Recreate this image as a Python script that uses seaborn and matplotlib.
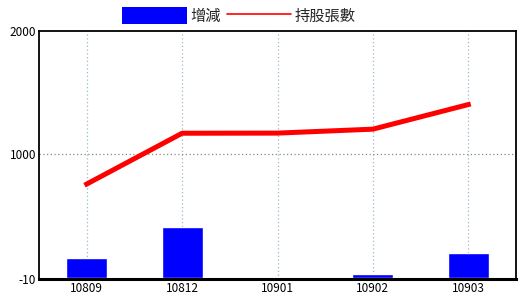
import matplotlib
matplotlib.use("Agg")
import matplotlib.pyplot as plt
import seaborn as sns
import pandas as pd
from matplotlib.patches import Patch
from matplotlib.lines import Line2D

months = ["10809", "10812", "10901", "10902", "10903"]
change = [160, 411, 1, 32, 199]          # 增減
holdings = [758, 1169, 1170, 1202, 1401]  # 持股張數
yticks = [-10, 1000, 2000]

df = pd.DataFrame({"month": months, "change": change, "holdings": holdings})

sns.set_theme(style="white")
plt.rcParams["font.family"] = ["Noto Sans CJK TC", "DejaVu Sans"]

fig = plt.figure(figsize=(5.2, 3.0), dpi=100)
ax = fig.add_axes([39/520, 1-279/300, (516-39)/520, (279-30.5)/300])

sns.barplot(data=df, x="month", y="change", color="#0000ff", saturation=1,
            width=0.43, ax=ax, zorder=2)
sns.lineplot(data=df, x="month", y="holdings", color="#ff0000", linewidth=3.6,
             ax=ax, zorder=3, sort=False, solid_capstyle="projecting")

ax.set_xlim(-0.5, 4.5)
ax.set_ylim(-10, 2000)
ax.set_yticks(yticks)
ax.set_yticklabels([str(t) for t in yticks])
ax.set_xlabel("")
ax.set_ylabel("")

for x in range(len(months)):
    ax.axvline(x, color="#9ab8cc", linestyle=(0, (1, 2)), linewidth=0.9, zorder=0)
ax.axhline(1000, color="#888888", linestyle=(0, (1, 2)), linewidth=0.9, zorder=0)

for side in ["left", "top", "right"]:
    ax.spines[side].set_color("black")
    ax.spines[side].set_linewidth(1.3)
ax.spines["bottom"].set_color("black")
ax.spines["bottom"].set_linewidth(2.2)

ax.tick_params(axis="both", length=0, pad=2, labelsize=8.5, colors="black")

handles = [Patch(facecolor="#0000ff", edgecolor="none", label="增減"),
           Line2D([0], [0], color="#ff0000", linewidth=1.2, label="持股張數")]
fig.legend(handles=handles, loc="center", bbox_to_anchor=(0.46, 0.947), ncol=2,
           frameon=False, fontsize=11, handlelength=4.2, handleheight=1.3,
           handletextpad=0.25, columnspacing=0.4, borderaxespad=0)

fig.savefig("out.png", dpi=100)
